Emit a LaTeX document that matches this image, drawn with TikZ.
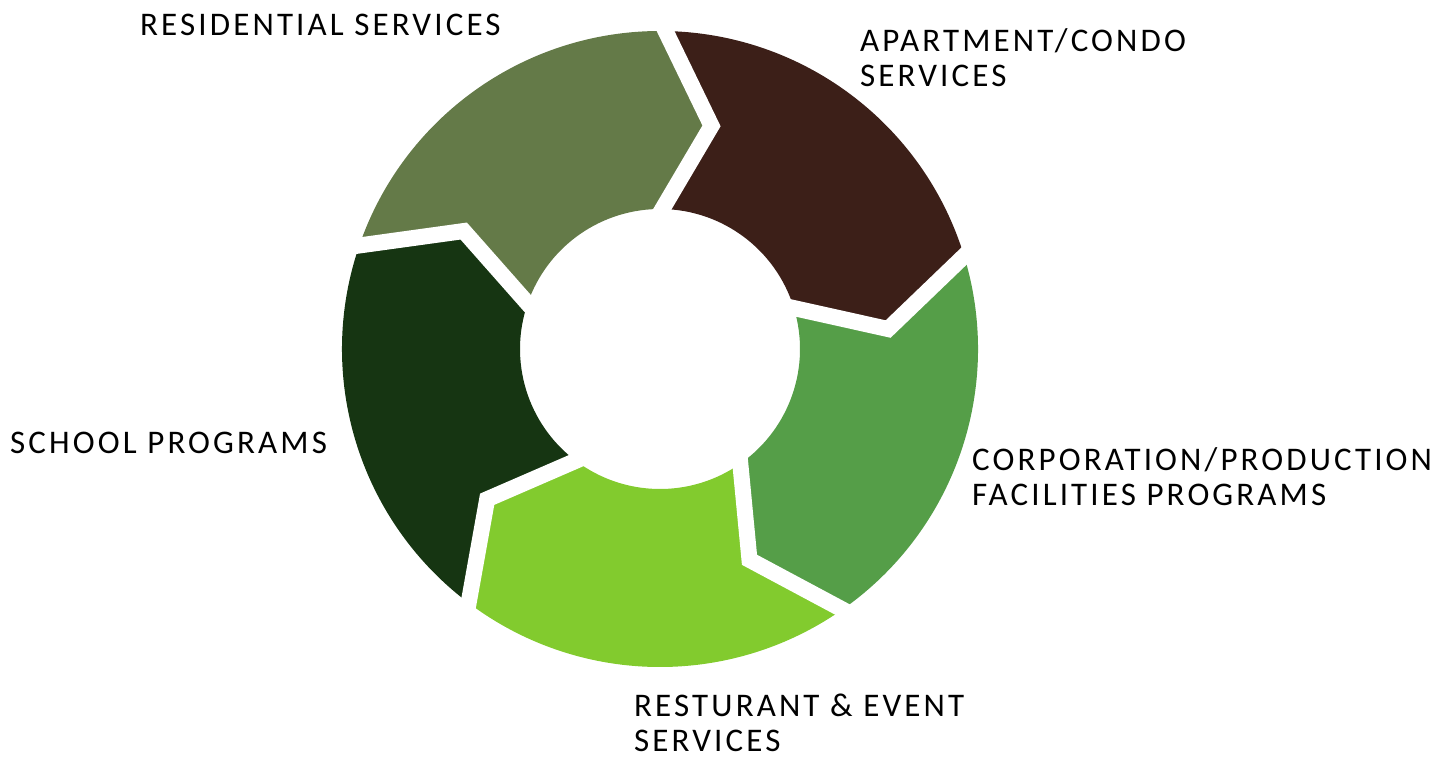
\documentclass[tikz,border=0pt]{standalone}
\usepackage{fontspec}
\setmainfont{Carlito}
\newfontfamily\lblfont[LetterSpace=9.5]{Carlito}
\usetikzlibrary{calc}
\definecolor{cgray}{HTML}{647A48}
\definecolor{cbrown}{HTML}{3C1F18}
\definecolor{cmid}{HTML}{559E48}
\definecolor{clime}{HTML}{82CB2E}
\definecolor{cdark}{HTML}{163512}
\begin{document}
\begin{tikzpicture}[x=1pt,y=1pt,
  lab/.style={anchor=base west, inner sep=0pt, align=left, font=\lblfont\fontsize{33}{35}\selectfont},
  gapline/.style={draw=white, line width=16pt, line join=miter, miter limit=20}]
\useasboundingbox (0,0) rectangle (1442,756);
\def\Ro{318}\def\Ri{140}\def\Rm{229}
\coordinate (c) at (660,407);
\foreach \s/\col in {161/cgray,89/cbrown,17/cmid,-55/clime,-127/cdark}{
  \fill[\col] ($(c)+(\s:\Ro)$) arc[start angle=\s, end angle=\s-72, radius=\Ro]
    -- ($(c)+(\s-84:\Rm)$) -- ($(c)+(\s-72:\Ri)$)
    arc[start angle=\s-72, end angle=\s, radius=\Ri]
    -- ($(c)+(\s-12:\Rm)$) -- cycle;
}
\foreach \b in {161,89,17,-55,-127}{
  \coordinate (T) at ($(c)+(\b-12:\Rm)$);
  \coordinate (O) at ($(c)+(\b:\Ro)$);
  \coordinate (I) at ($(c)+(\b:\Ri)$);
  \draw[gapline] ($(T)!1.2!(O)$) -- (T) -- ($(T)!1.2!(I)$);
}
\node[lab] (res) at (140,720) {RESIDENTIAL SERVICES};
\node[lab] (apt) at (860,669) {APARTMENT/CONDO\\SERVICES};
\node[lab] (corp) at (972,251) {CORPORATION/PRODUCTION\\FACILITIES PROGRAMS};
\node[lab] (rest) at (634,5) {RESTURANT \& EVENT\\SERVICES};
\node[lab] (school) at (10,303) {SCHOOL PROGRAMS};
\end{tikzpicture}
\end{document}
